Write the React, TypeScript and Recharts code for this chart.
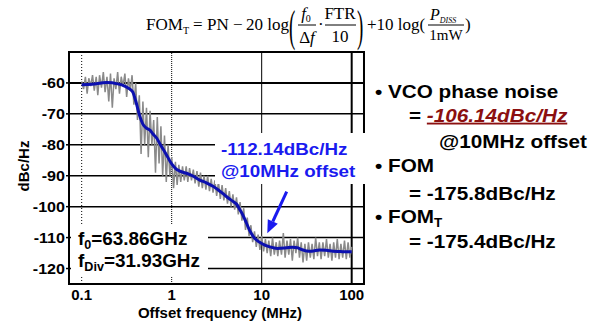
import React from 'react';
import { LineChart, Line, XAxis, YAxis, ReferenceLine, ReferenceArea } from 'recharts';

const SANS = "'Liberation Sans', Arial, Helvetica, sans-serif";
const SERIF = "'Liberation Serif', 'Times New Roman', serif";

// ---- axis ticks ----
const xTicks = [0.1, 1, 10, 100];
const xTickLabels = ['0.1', '1', '10', '100'];
const xMinorTicks = [0.08, 0.09, 0.1, 0.2, 0.3, 0.4, 0.5, 0.6, 0.7, 0.8, 0.9, 1, 2, 3, 4, 5, 6, 7, 8, 9, 10, 20, 30, 40, 50, 60, 70, 80, 90, 100];
const yTicks = [-60, -70, -80, -90, -100, -110, -120];
const xDomain = [0.0723, 137];
const yDomain = [-125, -50];

// ---- measured (gray) trace ----
const grayFreqA = [0.100, 0.105, 0.110, 0.115, 0.120, 0.126, 0.132, 0.138, 0.145, 0.151, 0.158, 0.166, 0.174, 0.182, 0.191, 0.200, 0.209, 0.219, 0.229, 0.240, 0.251, 0.263, 0.275, 0.288, 0.302, 0.316, 0.331, 0.347, 0.363, 0.380, 0.398, 0.417, 0.437, 0.457, 0.479, 0.501, 0.525, 0.550, 0.575, 0.603, 0.631, 0.661, 0.692, 0.724, 0.759, 0.794, 0.832, 0.871, 0.912, 0.955];
const grayDbA = [-59.5, -62.0, -58.0, -63.5, -58.5, -61.0, -57.5, -62.5, -58.0, -64.0, -57.5, -61.5, -56.5, -63.0, -58.0, -66.0, -57.0, -68.0, -58.5, -62.0, -56.5, -63.5, -58.0, -61.0, -57.0, -64.5, -58.5, -62.5, -57.5, -67.0, -60.0, -72.0, -64.0, -83.0, -66.0, -80.0, -68.0, -84.0, -69.0, -80.0, -72.0, -89.0, -71.0, -86.0, -74.0, -90.0, -77.0, -92.0, -80.0, -90.0];
const grayFreqB = [1.00, 1.05, 1.10, 1.15, 1.20, 1.26, 1.32, 1.38, 1.45, 1.51, 1.58, 1.66, 1.74, 1.82, 1.91, 2.00, 2.09, 2.19, 2.29, 2.40, 2.51, 2.63, 2.75, 2.88, 3.02, 3.16, 3.31, 3.47, 3.63, 3.80, 3.98, 4.17, 4.37, 4.57, 4.79, 5.01, 5.25, 5.50, 5.75, 6.03, 6.31, 6.61, 6.92, 7.24, 7.59, 7.94, 8.32, 8.71, 9.12, 9.55];
const grayDbB = [-84.0, -94.0, -85.5, -93.0, -86.5, -92.0, -87.0, -91.5, -87.0, -92.0, -87.5, -91.5, -88.0, -92.5, -88.5, -93.5, -89.0, -94.0, -90.0, -94.5, -90.0, -95.0, -91.0, -95.5, -91.5, -96.5, -92.0, -97.5, -93.0, -98.0, -94.0, -99.0, -95.0, -100.0, -96.0, -101.0, -97.0, -102.5, -98.5, -104.5, -100.5, -107.5, -103.5, -109.5, -106.0, -111.5, -108.0, -113.0, -109.0, -114.0];
const grayFreqC = [10.0, 10.5, 11.0, 11.5, 12.0, 12.6, 13.2, 13.8, 14.5, 15.1, 15.8, 16.6, 17.4, 18.2, 19.1, 20.0, 20.9, 21.9, 22.9, 24.0, 25.1, 26.3, 27.5, 28.8, 30.2, 31.6, 33.1, 34.7, 36.3, 38.0, 39.8, 41.7, 43.7, 45.7, 47.9, 50.1, 52.5, 55.0, 57.5, 60.3, 63.1, 66.1, 69.2, 72.4, 75.9, 79.4, 83.2, 87.1, 91.2, 95.5, 100];
const grayDbC = [-109.5, -114.5, -110.5, -115.0, -111.0, -116.0, -110.0, -115.5, -111.5, -116.0, -111.0, -115.5, -108.5, -116.5, -111.0, -115.5, -110.5, -117.5, -111.0, -115.0, -110.0, -116.5, -111.5, -118.0, -112.0, -117.5, -111.5, -116.5, -112.0, -117.0, -110.0, -116.0, -111.5, -117.0, -111.5, -116.0, -110.5, -116.5, -112.0, -117.5, -111.5, -116.5, -110.5, -117.0, -112.0, -116.5, -111.0, -117.0, -111.5, -116.5, -113.0];

// ---- smoothed (blue) trace ----
const blueFreq = [0.1, 0.13, 0.19, 0.25, 0.3, 0.34, 0.37, 0.40, 0.44, 0.48, 0.52, 0.57, 0.62, 0.68, 0.75, 0.87, 1.0, 1.1, 1.23, 1.46, 1.72, 2.05, 2.4, 2.88, 3.3, 3.72, 4.3, 4.8, 5.3, 5.7, 6.2, 6.75, 7.3, 8.0, 8.7, 10, 12.3, 15, 18.8, 22, 25, 28, 31.4, 36, 44, 52, 62, 75, 88, 100];
const blueDb = [-60.6, -60.4, -59.9, -60.3, -61.0, -61.9, -63.0, -66.0, -70.5, -73.4, -74.5, -75.2, -76.5, -77.8, -80.0, -83.1, -86.2, -87.6, -88.5, -89.2, -90.1, -91.4, -92.2, -93.4, -94.6, -95.8, -97.3, -98.3, -99.3, -100.9, -102.8, -105.2, -107.5, -109.5, -110.7, -111.9, -113.0, -113.5, -113.3, -113.1, -113.3, -113.9, -114.3, -114.4, -114.0, -114.1, -114.4, -114.5, -114.6, -114.6];

const grayFreq = [...grayFreqA, ...grayFreqB, ...grayFreqC];
const grayDb = [...grayDbA, ...grayDbB, ...grayDbC];
const grayData = grayFreq.map((f, i) => ({ f, v: grayDb[i] }));
const blueData = blueFreq.map((f, i) => ({ f, v: blueDb[i] }));

const YTick = (props: any) => {
  const { x, y, payload } = props;
  return (
    <g transform={`translate(${x},${y}) scale(1.15,1)`}>
      <text x={0} y={0} dy={5} textAnchor="end" fontFamily={SANS} fontWeight="bold" fontSize={14} fill="#000">
        {payload.value}
      </text>
    </g>
  );
};

const XTick = (props: any) => {
  const { x, y, payload } = props;
  const i = xTicks.indexOf(payload.value);
  return (
    <text x={x} y={y} dy={16.5} textAnchor="middle" fontFamily={SANS} fontWeight="bold" fontSize={15} fill="#000">
      {i >= 0 ? xTickLabels[i] : ''}
    </text>
  );
};

const T = ({ x, y, size, sx = 1.12, anchor = 'start', fill = '#000', family = SANS, weight = 'bold', children }: any) => (
  <g transform={`translate(${x},${y}) scale(${sx},1)`}>
    <text x={0} y={0} fontSize={size} fontFamily={family} fontWeight={weight} fill={fill} textAnchor={anchor}>
      {children}
    </text>
  </g>
);

const TINY = 0.01;

export default function App() {
  const annBlue = '#1a1aef';
  return (
    <div style={{ position: 'fixed', left: 0, top: 0, width: 601, height: 323, background: '#fff' }}>
      <LineChart width={601} height={323} data={grayData} margin={{ top: 52, right: 237, bottom: 39, left: 19 }}>
        <XAxis xAxisId="main" type="number" dataKey="f" scale="log" domain={xDomain} allowDataOverflow
          orientation="bottom" height={TINY} ticks={xTicks} interval={0} tick={<XTick />}
          tickLine={false} tickSize={0} tickMargin={0} axisLine={{ stroke: '#000', strokeWidth: 2 }} />
        <XAxis xAxisId="minorB" type="number" dataKey="f" scale="log" domain={xDomain} allowDataOverflow
          orientation="bottom" height={TINY} ticks={xMinorTicks} interval={0} mirror tick={false}
          tickSize={3.5} tickLine={{ stroke: '#000', strokeWidth: 1 }} axisLine={false} />
        <XAxis xAxisId="top" type="number" dataKey="f" scale="log" domain={xDomain} allowDataOverflow
          orientation="top" height={TINY} ticks={xMinorTicks} interval={0} mirror tick={false}
          tickSize={3.5} tickLine={{ stroke: '#000', strokeWidth: 1 }} axisLine={{ stroke: '#000', strokeWidth: 2 }} />
        <YAxis yAxisId="left" type="number" domain={yDomain} allowDataOverflow ticks={yTicks} interval={0}
          width={50} tick={<YTick />} tickSize={3} tickMargin={1}
          tickLine={{ stroke: '#000', strokeWidth: 1.5 }} axisLine={{ stroke: '#000', strokeWidth: 2 }} />
        <YAxis yAxisId="right" orientation="right" type="number" domain={yDomain} allowDataOverflow
          width={TINY} tick={false} tickLine={false} axisLine={{ stroke: '#000', strokeWidth: 2 }} />
        {yTicks.map((t) => (
          <ReferenceLine key={`h${t}`} xAxisId="main" yAxisId="left" y={t} stroke="#000" strokeWidth={t === -60 ? 2 : 1.5} />
        ))}
        <ReferenceLine xAxisId="main" yAxisId="left" x={0.1} stroke="#000" strokeWidth={1} strokeDasharray="1 2" />
        <ReferenceLine xAxisId="main" yAxisId="left" x={1} stroke="#000" strokeWidth={1} strokeDasharray="1 1" />
        <ReferenceLine xAxisId="main" yAxisId="left" x={10} stroke="#000" strokeWidth={1} />
        <ReferenceLine xAxisId="main" yAxisId="left" x={100} stroke="#000" strokeWidth={2} />
        <ReferenceArea xAxisId="main" yAxisId="left" x1={xDomain[0]} x2={xDomain[1]} y1={yDomain[0]} y2={yDomain[1]}
          fill="none" fillOpacity={0} stroke="#000" strokeWidth={2} ifOverflow="visible" />
        <Line xAxisId="main" yAxisId="left" data={grayData} dataKey="v" type="linear" stroke="#8a8a8a"
          strokeWidth={1.5} dot={false} activeDot={false} isAnimationActive={false} />
        <Line xAxisId="main" yAxisId="left" data={blueData} dataKey="v" type="monotone" stroke="#0c10b0"
          strokeWidth={3} dot={false} activeDot={false} isAnimationActive={false} />
      </LineChart>

      <svg width={601} height={323} style={{ position: 'absolute', left: 0, top: 0, pointerEvents: 'none' }}>
        {/* Formula */}
        <g fontFamily={SERIF} fill="#000">
          <text x={146} y={30} fontSize={17}>FOM</text>
          <text x={183} y={34} fontSize={10}>T</text>
          <text x={193} y={30} fontSize={17}>=</text>
          <text x={207} y={30} fontSize={17}>PN</text>
          <text x={233} y={30} fontSize={17}>−</text>
          <text x={246} y={30} fontSize={17}>20 log</text>
          <g transform="translate(289,41) scale(0.45,1.05)"><text x={0} y={0} fontSize={42}>(</text></g>
          <text x={306} y={19} fontSize={17} textAnchor="middle"><tspan fontStyle="italic">f</tspan><tspan fontSize={10} dy={3}>0</tspan></text>
          <line x1={298} x2={316} y1={25} y2={25} stroke="#000" strokeWidth={1} />
          <text x={307} y={43} fontSize={17} textAnchor="middle">Δ<tspan fontStyle="italic">f</tspan></text>
          <text x={318} y={30} fontSize={17}>·</text>
          <text x={340} y={19} fontSize={17} textAnchor="middle">FTR</text>
          <line x1={325} x2={356} y1={25} y2={25} stroke="#000" strokeWidth={1} />
          <text x={340} y={42} fontSize={17} textAnchor="middle">10</text>
          <g transform="translate(357,41) scale(0.45,1.05)"><text x={0} y={0} fontSize={42}>)</text></g>
          <text x={367} y={30} fontSize={17}>+10 log(</text>
          <text x={430} y={20} fontSize={16}><tspan fontStyle="italic">P</tspan><tspan fontStyle="italic" fontSize={8} dy={3}>DISS</tspan></text>
          <line x1={428} x2={464} y1={25} y2={25} stroke="#000" strokeWidth={1} />
          <text x={446} y={40} fontSize={15} textAnchor="middle">1mW</text>
          <text x={465} y={30} fontSize={17}>)</text>
        </g>

        {/* axis titles */}
        <text x={220} y={317.5} textAnchor="middle" fontFamily={SANS} fontWeight="bold" fontSize={15}>Offset frequency (MHz)</text>
        <text transform="translate(28.5,166) rotate(-90)" textAnchor="middle" fontFamily={SANS} fontWeight="bold" fontSize={15}>dBc/Hz</text>

        {/* f0 / fDiv box */}
        <rect x={71} y={224} width={137} height={52} fill="#fff" />
        <g transform="translate(78,245) scale(1.05,1)">
          <text fontFamily={SANS} fontWeight="bold" fontSize={18}>f<tspan fontSize={12} dy={4}>0</tspan><tspan dy={-4}>=63.86GHz</tspan></text>
        </g>
        <g transform="translate(78,267.3) scale(1.05,1)">
          <text fontFamily={SANS} fontWeight="bold" fontSize={18}>f<tspan fontSize={12} dy={4}>Div</tspan><tspan dy={-4}>=31.93GHz</tspan></text>
        </g>

        {/* blue annotation */}
        <rect x={215} y={133} width={153} height={51} fill="#fff" />
        <T x={221} y={155} size={16.8} fill={annBlue}>-112.14dBc/Hz</T>
        <T x={221} y={176.7} size={16.8} fill={annBlue}>@10MHz offset</T>
        <line x1={286.7} y1={191.7} x2={272.8} y2={221.5} stroke={annBlue} strokeWidth={3} />
        <polygon points="267.3,233.3 277.8,223.8 267.8,219.2" fill={annBlue} />

        {/* right-hand bullet text */}
        <T x={375} y={98.3} size={18.5}>• VCO phase noise</T>
        <g transform="translate(409,121.7) scale(1.12,1)">
          <text fontFamily={SANS} fontWeight="bold" fontSize={18.5} fill="#000">
            {'= '}
            <tspan fill="#8b1010" fontStyle="italic" textDecoration="underline">-106.14dBc/Hz</tspan>
          </text>
        </g>
        <T x={439} y={147.7} size={18.5}>@10MHz offset</T>
        <T x={375} y={171.7} size={18.5}>• FOM</T>
        <T x={409} y={200} size={18.5}>= -175.8dBc/Hz</T>
        <g transform="translate(375,223.3) scale(1.12,1)">
          <text fontFamily={SANS} fontWeight="bold" fontSize={18.5} fill="#000">
            • FOM<tspan fontSize={12} dy={4}>T</tspan>
          </text>
        </g>
        <T x={409} y={248.3} size={18.5}>= -175.4dBc/Hz</T>
      </svg>
    </div>
  );
}
